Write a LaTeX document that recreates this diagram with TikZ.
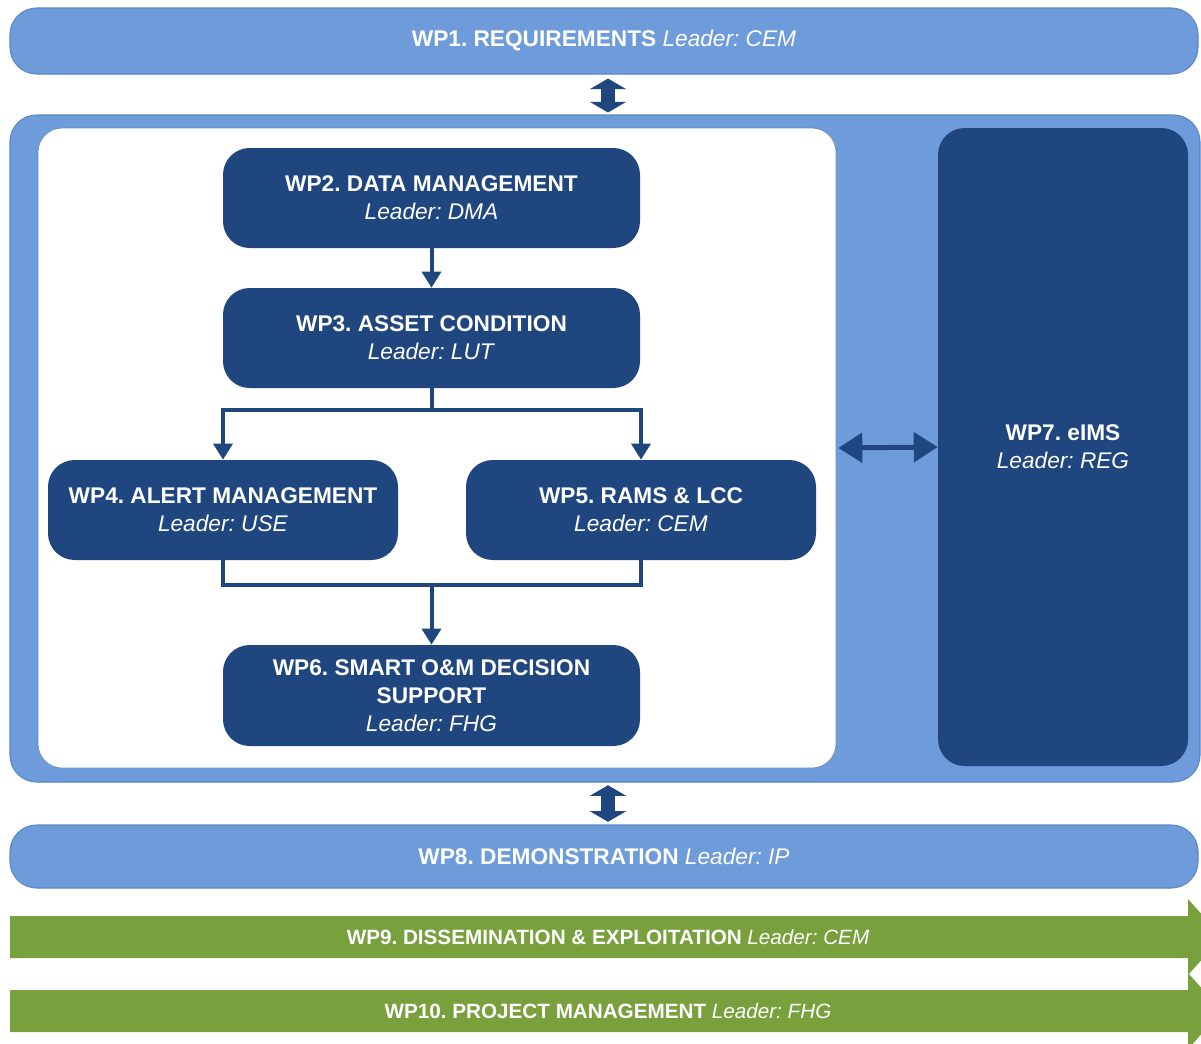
\documentclass[tikz,border=0pt]{standalone}
\usepackage{fontspec}
\setmainfont{Liberation Sans}
\usetikzlibrary{arrows.meta,calc}
\definecolor{lblue}{HTML}{6E9CDA}
\definecolor{lborder}{HTML}{5A86C4}
\definecolor{dblue}{HTML}{1F467F}
\definecolor{wpgreen}{HTML}{78A03C}
\frenchspacing
\begin{document}
\begin{tikzpicture}[x=0.75pt,y=-0.75pt,
  lightbar/.style={draw=lborder,line width=0.8pt,fill=lblue,rounded corners=20pt,inner sep=0pt,text=white,font=\fontsize{17}{21}\selectfont},
  darkbox/.style={fill=dblue,rounded corners=20pt,minimum width=312.75pt,minimum height=75pt,inner sep=0pt,align=center,text=white,font=\fontsize{17}{21}\selectfont},
  widebox/.style={darkbox,minimum width=262.5pt},
  flow/.style={draw=dblue,line width=3pt,-{Triangle[width=14pt,length=12pt]}},
  plain/.style={draw=dblue,line width=3pt},
  blockdbl/.style={draw=dblue,line width=10.5pt,{Triangle[width=27pt,length=8pt]}-{Triangle[width=27pt,length=8pt]}},
  sidedbl/.style={draw=dblue,line width=3.75pt,{Triangle[width=22pt,length=18pt]}-{Triangle[width=22pt,length=18pt]}},
  bartext/.style={inner sep=0pt,text=white,font=\fontsize{15.5}{19}\selectfont}
]
\useasboundingbox (0,0) rectangle (1201,1043);
\clip (0,0) rectangle (1201,1043);
\fill[white] (0,0) rectangle (1201,1043);

% WP1
\node[lightbar,minimum width=891pt,minimum height=49.5pt] (wp1) at (604,41)
  {\textbf{WP1. REQUIREMENTS} \textit{Leader: CEM}};

% container
\node[lightbar,minimum width=892.5pt,minimum height=500.25pt] (cont) at (605,448.5) {};
\node[draw=lborder,line width=0.5pt,fill=white,rounded corners=18pt,minimum width=598.5pt,minimum height=480pt,inner sep=0pt] (inner) at (437,448) {};
\node[darkbox,minimum width=187.5pt,minimum height=478.5pt] (wp7) at (1063,447)
  {\textbf{WP7. eIMS}\\\textit{Leader: REG}};

% WP2..WP6
\node[darkbox] (wp2) at (431.5,198) {\textbf{WP2. DATA MANAGEMENT}\\\textit{Leader: DMA}};
\node[darkbox] (wp3) at (431.5,338) {\textbf{WP3. ASSET CONDITION}\\\textit{Leader: LUT}};
\node[widebox] (wp4) at (223,510) {\textbf{WP4. ALERT MANAGEMENT}\\\textit{Leader: USE}};
\node[widebox] (wp5) at (641,510) {\textbf{WP5. RAMS \& LCC}\\\textit{Leader: CEM}};
\node[darkbox,minimum height=75.75pt] (wp6) at (431.5,695.5)
  {\textbf{WP6. SMART O\&M DECISION}\\\textbf{SUPPORT}\\\textit{Leader: FHG}};

% connectors
\coordinate (split) at (431.5,410);
\coordinate (merge) at (431.5,585);
\draw[flow] (wp2.south) -- (wp3.north);
\draw[plain] (wp3.south) -- (split);
\draw[flow] (split) -| (wp4.north);
\draw[flow] (split) -| (wp5.north);
\draw[plain] (wp4.south) |- (merge) -| (wp5.south);
\draw[flow] (merge) -- (wp6.north);

\draw[sidedbl,shorten <=1.5pt] (inner.east) -- (wp7.west);

% WP8
\node[lightbar,minimum width=891pt,minimum height=47.25pt] (wp8) at (604,856.5)
  {\textbf{WP8. DEMONSTRATION} \textit{Leader: IP}};

\draw[blockdbl,shorten <=3pt,shorten >=1.5pt] ($(wp1.south)+(4,0)$) -- ($(cont.north)+(3,0)$);
\draw[blockdbl,shorten <=2pt,shorten >=2pt] ($(cont.south)+(3,0)$) -- ($(wp8.north)+(4,0)$);

% green arrows
\fill[wpgreen] (10,916) -- (1188,916) -- (1188,899) -- (1222,937) -- (1188,975) -- (1188,958) -- (10,958) -- cycle;
\node[bartext] (wp9) at (608,937) {\textbf{WP9. DISSEMINATION \& EXPLOITATION} \textit{Leader: CEM}};
\fill[wpgreen] (10,990) -- (1188,990) -- (1188,973) -- (1222,1011) -- (1188,1049) -- (1188,1032) -- (10,1032) -- cycle;
\node[bartext] (wp10) at (608,1011) {\textbf{WP10. PROJECT MANAGEMENT} \textit{Leader: FHG}};
\end{tikzpicture}
\end{document}
